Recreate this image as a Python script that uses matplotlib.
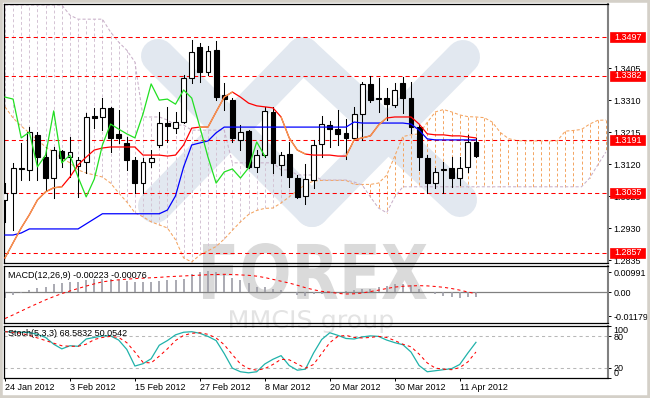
#!/usr/bin/env python
# -*- coding: utf-8 -*-

import matplotlib
matplotlib.use("Agg")

import matplotlib.pyplot as plt
from matplotlib.font_manager import FontProperties
from matplotlib.lines import Line2D
from matplotlib.patches import PathPatch, Rectangle
from matplotlib.textpath import TextPath
from matplotlib.transforms import Affine2D, blended_transform_factory

W, H = 650, 398

# daily bars, 24 Jan 2012 .. 12 Apr 2012
opens = [1.3014, 1.3035, 1.3106, 1.3103, 1.3207, 1.3141, 1.3079, 1.3159, 1.3141, 1.3115,
         1.3127, 1.3263, 1.3260, 1.3287, 1.3210, 1.3183, 1.3132, 1.3064, 1.3127, 1.3177,
         1.3242, 1.3227, 1.3245, 1.3376, 1.3467, 1.3393, 1.3458, 1.3325, 1.3310, 1.3192,
         1.3218, 1.3112, 1.3147, 1.3275, 1.3118, 1.3150, 1.3079, 1.3026, 1.3073, 1.3180,
         1.3236, 1.3224, 1.3213, 1.3198, 1.3269, 1.3358, 1.3316, 1.3316, 1.3296, 1.3361,
         1.3316, 1.3230, 1.3138, 1.3064, 1.3103, 1.3109, 1.3079, 1.3112, 1.3186]
highs = [1.3064, 1.3124, 1.3183, 1.3230, 1.3215, 1.3171, 1.3171, 1.3162, 1.3201, 1.3141,
         1.3272, 1.3287, 1.3316, 1.3290, 1.3281, 1.3201, 1.3141, 1.3138, 1.3162, 1.3275,
         1.3290, 1.3275, 1.3384, 1.3488, 1.3479, 1.3470, 1.3485, 1.3361, 1.3316, 1.3236,
         1.3221, 1.3162, 1.3290, 1.3290, 1.3156, 1.3186, 1.3088, 1.3121, 1.3192, 1.3263,
         1.3248, 1.3281, 1.3254, 1.3290, 1.3364, 1.3381, 1.3376, 1.3346, 1.3361, 1.3378,
         1.3364, 1.3236, 1.3147, 1.3109, 1.3127, 1.3141, 1.3141, 1.3207, 1.3198]
lows = [1.2949, 1.2925, 1.3073, 1.3073, 1.3073, 1.3044, 1.3020, 1.3112, 1.3082, 1.3023,
        1.3094, 1.3227, 1.3221, 1.3156, 1.3183, 1.3103, 1.3035, 1.3035, 1.3112, 1.3171,
        1.3186, 1.3213, 1.3242, 1.3361, 1.3364, 1.3384, 1.3310, 1.3281, 1.3186, 1.3162,
        1.3109, 1.3097, 1.3141, 1.3094, 1.3088, 1.3053, 1.3020, 1.3002, 1.3050, 1.3141,
        1.3171, 1.3177, 1.3135, 1.3192, 1.3192, 1.3304, 1.3275, 1.3251, 1.3290, 1.3272,
        1.3213, 1.3103, 1.3035, 1.3050, 1.3035, 1.3053, 1.3058, 1.3097, 1.3141]
closes = [1.3035, 1.3109, 1.3109, 1.3215, 1.3141, 1.3079, 1.3162, 1.3138, 1.3156, 1.3132,
          1.3260, 1.3257, 1.3287, 1.3198, 1.3198, 1.3132, 1.3064, 1.3127, 1.3138, 1.3242,
          1.3233, 1.3245, 1.3376, 1.3453, 1.3393, 1.3456, 1.3319, 1.3313, 1.3198, 1.3215,
          1.3112, 1.3147, 1.3278, 1.3124, 1.3147, 1.3082, 1.3023, 1.3076, 1.3177, 1.3239,
          1.3224, 1.3210, 1.3198, 1.3269, 1.3358, 1.3310, 1.3313, 1.3298, 1.3340, 1.3316,
          1.3230, 1.3141, 1.3064, 1.3097, 1.3106, 1.3079, 1.3109, 1.3186, 1.3144]

# Ichimoku (9, 26, 52)
tenkan = [1.2842, 1.2887, 1.2931, 1.2970, 1.3014, 1.3038, 1.3050, 1.3053, 1.3082, 1.3118,
          1.3141, 1.3162, 1.3168, 1.3171, 1.3171, 1.3171, 1.3171, 1.3147, 1.3147, 1.3147,
          1.3144, 1.3147, 1.3177, 1.3227, 1.3230, 1.3230, 1.3275, 1.3319, 1.3334, 1.3319,
          1.3301, 1.3293, 1.3290, 1.3287, 1.3260, 1.3198, 1.3162, 1.3150, 1.3147, 1.3147,
          1.3147, 1.3144, 1.3144, 1.3192, 1.3198, 1.3204, 1.3236, 1.3257, 1.3260, 1.3260,
          1.3260, 1.3239, 1.3210, 1.3207, 1.3207, 1.3204, 1.3204, 1.3201, 1.3198]
kijun = [1.2910, 1.2910, 1.2916, 1.2928, 1.2928, 1.2928, 1.2928, 1.2928, 1.2928, 1.2928,
         1.2943, 1.2958, 1.2973, 1.2973, 1.2973, 1.2973, 1.2973, 1.2973, 1.2973, 1.2973,
         1.2984, 1.3026, 1.3112, 1.3177, 1.3183, 1.3189, 1.3213, 1.3230, 1.3230, 1.3230,
         1.3230, 1.3230, 1.3230, 1.3230, 1.3230, 1.3230, 1.3230, 1.3230, 1.3230, 1.3230,
         1.3230, 1.3230, 1.3230, 1.3245, 1.3242, 1.3242, 1.3242, 1.3242, 1.3242, 1.3242,
         1.3239, 1.3221, 1.3195, 1.3192, 1.3192, 1.3192, 1.3192, 1.3192, 1.3192]
# cloud, runs past the last bar
span_a = [1.3290, 1.3257, 1.3233, 1.3213, 1.3192, 1.3171, 1.3156, 1.3138, 1.3124, 1.3103,
          1.3094, 1.3088, 1.3082, 1.3064, 1.3035, 1.3008, 1.2976, 1.2964, 1.2949, 1.2940,
          1.2931, 1.2896, 1.2842, 1.2830, 1.2851, 1.2863, 1.2876, 1.2898, 1.2924, 1.2949,
          1.2971, 1.2983, 1.2989, 1.2990, 1.3005, 1.3023, 1.3042, 1.3060, 1.3070, 1.3072,
          1.3072, 1.3072, 1.3072, 1.3060, 1.3060, 1.3060, 1.3064, 1.3087, 1.3144, 1.3202,
          1.3207, 1.3210, 1.3244, 1.3275, 1.3282, 1.3275, 1.3266, 1.3261, 1.3260, 1.3258,
          1.3245, 1.3214, 1.3196, 1.3190, 1.3189, 1.3189, 1.3189, 1.3189, 1.3189, 1.3218,
          1.3220, 1.3223, 1.3239, 1.3250, 1.3251]
span_b = [1.3592, 1.3592, 1.3592, 1.3592, 1.3592, 1.3592, 1.3592, 1.3592, 1.3562, 1.3550,
          1.3550, 1.3550, 1.3550, 1.3512, 1.3482, 1.3458, 1.3423, 1.3260, 1.3260, 1.3260,
          1.3251, 1.3236, 1.3236, 1.3221, 1.3221, 1.3221, 1.3221, 1.3221, 1.3124, 1.3124,
          1.3124, 1.3124, 1.3124, 1.3124, 1.3103, 1.3103, 1.3088, 1.3088, 1.3088, 1.3073,
          1.3073, 1.3073, 1.3073, 1.3067, 1.3058, 1.3023, 1.2990, 1.2976, 1.3023, 1.3053,
          1.3053, 1.3053, 1.3053, 1.3053, 1.3053, 1.3053, 1.3053, 1.3053, 1.3053, 1.3053,
          1.3053, 1.3053, 1.3053, 1.3053, 1.3053, 1.3053, 1.3053, 1.3053, 1.3053, 1.3053,
          1.3053, 1.3053, 1.3079, 1.3118, 1.3156]
CHIKOU_SHIFT = 26

# MACD(12,26,9)
macd_hist = [-0.0028, -0.0012, -0.0003, 0.0010, 0.0023, 0.0026, 0.0038, 0.0043, 0.0048, 0.0051,
             0.0059, 0.0064, 0.0064, 0.0064, 0.0059, 0.0056, 0.0051, 0.0048, 0.0051, 0.0054,
             0.0059, 0.0059, 0.0067, 0.0089, 0.0100, 0.0104, 0.0100, 0.0084, 0.0071, 0.0059,
             0.0043, 0.0026, 0.0026, 0.0018, 0.0010, 0.0002, -0.0015, -0.0018, -0.0011, -0.0007,
             -0.0003, 0.0002, 0.0005, 0.0010, 0.0018, 0.0018, 0.0026, 0.0031, 0.0038, 0.0038,
             0.0035, 0.0018, 0.0002, -0.0011, -0.0018, -0.0023, -0.0028, -0.0023, -0.0022]
macd_signal = [-0.0130, -0.0112, -0.0093, -0.0074, -0.0056, -0.0038, -0.0022, -0.0007, 0.0006, 0.0018,
               0.0030, 0.0041, 0.0051, 0.0056, 0.0061, 0.0064, 0.0067, 0.0069, 0.0071, 0.0073,
               0.0076, 0.0078, 0.0080, 0.0082, 0.0084, 0.0086, 0.0087, 0.0088, 0.0087, 0.0085,
               0.0083, 0.0079, 0.0072, 0.0063, 0.0054, 0.0045, 0.0034, 0.0022, 0.0012, 0.0004,
               0.0000, -0.0006, -0.0009, -0.0008, -0.0004, 0.0003, 0.0010, 0.0018, 0.0025, 0.0029,
               0.0031, 0.0032, 0.0031, 0.0028, 0.0024, 0.0018, 0.0010, 0.0001, -0.0008]

# Stochastic(5,3,3)
stoch_k = [89, 89, 88, 87.5, 84, 78, 65, 56, 62, 61,
           75, 78, 81, 81, 73, 55, 23, 27.5, 37, 63,
           72, 83, 88, 89, 86, 80, 72, 47, 19, 12,
           10, 12, 27, 36, 43, 24, 15, 17, 48, 74,
           87, 82, 76, 75, 79, 81, 80, 73, 68, 64,
           50, 24, 12, 14, 16, 18, 26, 48, 68.6]
stoch_d = [89, 88, 86, 82, 77, 72, 67, 62, 61, 61,
           65, 74, 78, 80, 78, 68, 50, 30, 29, 42,
           56, 72, 82, 86, 87, 84, 77, 64, 45, 27,
           18, 15, 18, 26, 36, 35, 27, 19, 26, 47,
           68, 80, 82, 78, 77, 78, 80, 78, 72, 65,
           60, 46, 29, 19, 17, 16, 20, 31, 50]

levels = [1.3497, 1.3382, 1.3191, 1.3035, 1.2857]
price_ticks = [1.3405, 1.3310, 1.3215, 1.3120, 1.3025, 1.2930, 1.2835]
macd_ticks = [0.00991, 0.0, -0.01179]
macd_tick_labels = ["0.00991", "0.00", "-0.01179"]
stoch_ticks = [100, 80, 20, 0]
date_ticks = [0, 8, 16, 24, 32, 40, 48, 56]
date_labels = ["24 Jan 2012", "3 Feb 2012", "15 Feb 2012", "27 Feb 2012",
               "8 Mar 2012", "20 Mar 2012", "30 Mar 2012", "11 Apr 2012"]

# bars where the tenkan line shows up orange instead of red
tenkan_orange = [(0, 7), (24, 28), (34, 37), (42, 47)]

SANDY = "#f4a460"
THISTLE = "#d4c3d4"
FS = 6.5

plt.rcParams["font.family"] = ["Liberation Sans", "DejaVu Sans"]


def px_axes(fig, x0, y0, x1, y1):
    """Axes from pixel box (y measured from the top)"""
    return fig.add_axes([x0 / W, 1 - y1 / H, (x1 - x0) / W, (y1 - y0) / H])


def style_panel(ax):
    ax.set_facecolor("none")
    for side in ("left", "top", "bottom"):
        ax.spines[side].set_color("black")
        ax.spines[side].set_linewidth(0.9)
    ax.spines["right"].set_color("#808080")
    ax.spines["right"].set_linewidth(1.5)
    ax.yaxis.tick_right()
    ax.tick_params(axis="y", length=2.2, width=0.7, pad=1.5, labelsize=FS)
    ax.set_xlim(-0.12, 74.26)


def add_word(fig, word, box, color, bold):
    """Watermark word stretched into a pixel box"""
    fp = FontProperties(family="DejaVu Sans", weight="bold" if bold else "normal")
    tp = TextPath((0, 0), word, size=10, prop=fp)
    ext = tp.get_extents()
    x0, y0, x1, y1 = box
    tr = (Affine2D().translate(-ext.x0, -ext.y0)
          .scale((x1 - x0) / ext.width / W, (y1 - y0) / ext.height / H)
          .translate(x0 / W, 1 - y1 / H))
    fig.add_artist(PathPatch(tr.transform_path(tp), transform=fig.transFigure,
                             fc=color, ec="none", zorder=-1))


def add_watermark(fig):
    # light blue double X of the logo
    strokes = [((158, 56), (312, 210)), ((303, 54), (155, 206)),
               ((303, 54), (460, 200)), ((463, 57), (312, 210))]
    for (x0, y0), (x1, y1) in strokes:
        fig.add_artist(Line2D([x0 / W, x1 / W], [1 - y0 / H, 1 - y1 / H],
                              transform=fig.transFigure, color="#e2e8f0", lw=24.5,
                              solid_capstyle="round", zorder=-2))
    add_word(fig, "FOREX", (203, 243, 427, 300), "#dadada", True)
    add_word(fig, "MMCIS group", (230, 310, 393, 333), "#e3e3e3", False)


fig = plt.figure(figsize=(W / 100, H / 100), dpi=100)
fig.patch.set_facecolor("white")
add_watermark(fig)

# ---------------- price panel
ax = px_axes(fig, 4, 4, 608, 263)
style_panel(ax)
ax.set_ylim(1.2827, 1.3595)
ax.set_xticks([])
ax.set_yticks(price_ticks)
ax.set_yticklabels([f"{t:.4f}" for t in price_ticks])

# cloud: dotted columns between span A and span B
for i, (a, b) in enumerate(zip(span_a, span_b)):
    col = SANDY if a > b else THISTLE
    ax.plot([i, i], [a, b], color=col, lw=0.7, ls=(0, (3, 2.5)), zorder=1)
ax.plot(range(len(span_a)), span_a, color=SANDY, lw=0.75, ls=(0, (3, 2)), zorder=1.5)
ax.plot(range(len(span_b)), span_b, color="#c9b0c9", lw=0.75, ls=(0, (3, 2)), zorder=1.5)

for lv in levels:
    ax.axhline(lv, color="red", lw=0.75, ls=(0, (4, 3)), zorder=2)

# candles
for i, (o, h, l, c) in enumerate(zip(opens, highs, lows, closes)):
    ax.plot([i, i], [l, h], color="black", lw=0.75, zorder=4)
    lo, hi = min(o, c), max(o, c)
    if hi - lo < 0.0002:
        ax.plot([i - 0.3, i + 0.3], [c, c], color="black", lw=1, zorder=5)
        continue
    face = "white" if c > o else "black"
    ax.add_patch(Rectangle((i - 0.3, lo), 0.6, hi - lo, fc=face, ec="black",
                           lw=0.8, zorder=5))

bars = list(range(len(closes)))
ax.plot(bars, kijun, color="#0000ff", lw=0.9, zorder=6)
ax.plot(bars, tenkan, color="#ff0000", lw=0.9, zorder=6)
for s, e in tenkan_orange:
    ax.plot(bars[s:e + 1], tenkan[s:e + 1], color="#f0a050", lw=0.9, zorder=6.1)
# chikou span = close drawn 26 bars back
ax.plot(bars[:len(closes) - CHIKOU_SHIFT], closes[CHIKOU_SHIFT:], color="#22e022",
        lw=0.9, zorder=6)

# red price boxes on the scale
blend = blended_transform_factory(ax.transAxes, ax.transData)
box_w = 35 / 604
box_h = 10 * 0.0002965
for lv in levels:
    ax.add_patch(Rectangle((1.0035, lv - box_h / 2), box_w, box_h, transform=blend,
                           fc="red", ec="red", lw=0.5, clip_on=False, zorder=8))
    ax.text(1.0035 + box_w / 2, lv, f"{lv:.4f}", transform=blend, color="white",
            fontsize=FS, ha="center", va="center", clip_on=False, zorder=9)

# ---------------- MACD panel
ax2 = px_axes(fig, 4, 266, 608, 323)
style_panel(ax2)
ax2.set_ylim(-0.0152, 0.0129)
ax2.set_xticks([])
ax2.set_yticks(macd_ticks)
ax2.set_yticklabels(macd_tick_labels)
ax2.axhline(0, color="#808080", lw=0.9, zorder=1)
ax2.vlines(bars, 0, macd_hist, color="#9c9ca6", lw=1.2, zorder=2)
ax2.plot(bars, macd_signal, color="red", lw=0.75, ls=(0, (3, 3)), zorder=3)
ax2.text(4 / 604, 0.84, "MACD(12,26,9) -0.00223 -0.00076", transform=ax2.transAxes,
         fontsize=FS, va="center", ha="left")

# ---------------- stochastic panel
ax3 = px_axes(fig, 4, 326, 608, 378)
style_panel(ax3)
ax3.set_ylim(0, 100)
ax3.set_yticks(stoch_ticks)
ax3.set_yticklabels([str(t) for t in stoch_ticks])
ax3.get_yticklabels()[0].set_va("top")
ax3.get_yticklabels()[-1].set_va("bottom")
for lv in (20, 80):
    ax3.axhline(lv, color="#b8b8b8", lw=0.75, ls=(0, (3, 3)), zorder=1)
ax3.plot(bars, stoch_k, color="#20b2aa", lw=0.9, zorder=3)
ax3.plot(bars, stoch_d, color="red", lw=0.75, ls=(0, (3, 3)), zorder=3)
ax3.text(4 / 604, 0.85, "Stoch(5,3,3) 68.5832 50.0542", transform=ax3.transAxes,
         fontsize=FS, va="center", ha="left")
ax3.set_xticks(date_ticks)
ax3.set_xticklabels(date_labels, ha="left")
ax3.tick_params(axis="x", length=2.2, width=0.7, pad=1.5, labelsize=FS)

# window frame
fig.add_artist(Rectangle((0, 0), 1, 1, transform=fig.transFigure, fill=False,
                         ec="#d4d0c8", lw=4, zorder=10))

fig.savefig("out.png", dpi=100)
